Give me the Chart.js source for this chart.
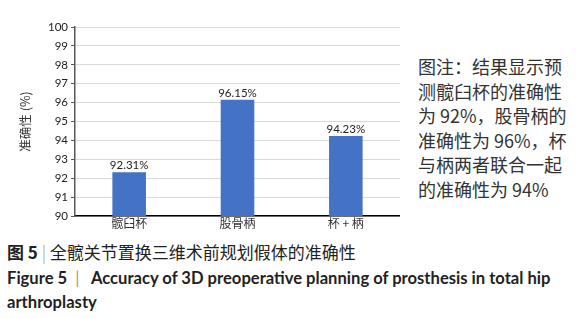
<!DOCTYPE html>
<html><head><meta charset="utf-8">
<script src="https://cdn.jsdelivr.net/npm/chart.js@4"></script>
<style>
html,body{margin:0;padding:0;background:#fff;width:582px;height:318px;overflow:hidden;}
#wrap{position:absolute;left:0;top:0;width:400px;height:232px;}
.note{position:absolute;left:418px;top:54px;font-family:"Noto Sans CJK SC";font-size:18px;line-height:24.6px;color:#333;white-space:nowrap;}
.cap{position:absolute;left:7px;color:#231f20;white-space:nowrap;}
#c1{top:239px;font-family:"Noto Sans CJK SC";font-size:17px;}
#c2{top:268px;font-family:Lato;font-weight:bold;font-size:16.6px;}
#c3{top:292px;font-family:Lato;font-weight:bold;font-size:16.6px;}
</style></head><body>
<div id="wrap"><canvas id="ch" width="400" height="232"></canvas></div>
<div class="note">图注：结果显示预<br>测髋臼杯的准确性<br>为 92%，股骨柄的<br>准确性为 96%，杯<br>与柄两者联合一起<br>的准确性为 94%</div>
<div class="cap" id="c1"><b>图 5</b>&nbsp;<span style="color:#999;font-weight:300">|</span>&nbsp;全髋关节置换三维术前规划假体的准确性</div>
<div class="cap" id="c2">Figure 5&nbsp;&nbsp;<span style="color:#999;font-weight:normal">|</span>&nbsp;&nbsp; Accuracy of 3D preoperative planning of prosthesis in total hip</div>
<div class="cap" id="c3">arthroplasty</div>
<script>
const categories = ["髋臼杯", "股骨柄", "杯 + 柄"];
const accuracy = [92.31, 96.15, 94.23];
const valueLabels = ["92.31%", "96.15%", "94.23%"];
const yMin = 90, yMax = 100, yStep = 1;
const yTitle = "准确性 (%)";

const labelPlugin = {
  id: 'valueLabels',
  afterDatasetsDraw(chart) {
    const ctx = chart.ctx;
    const meta = chart.getDatasetMeta(0);
    ctx.save();
    ctx.font = '11.5px Lato, "Noto Sans"';
    ctx.fillStyle = '#222';
    ctx.textAlign = 'center';
    ctx.textBaseline = 'bottom';
    meta.data.forEach((bar, i) => {
      ctx.fillText(valueLabels[i], bar.x, bar.y - 1);
    });
    ctx.restore();
  }
};

new Chart(document.getElementById('ch'), {
  type: 'bar',
  data: {
    labels: categories,
    datasets: [{
      data: accuracy,
      backgroundColor: '#4472c4',
      borderColor: '#4472c4',
      borderWidth: 0,
      categoryPercentage: 1,
      barPercentage: 0.31
    }]
  },
  options: {
    responsive: false,
    animation: false,
    devicePixelRatio: 1,
    layout: {padding: {top: 27, right: 0, bottom: 0, left: 18}},
    plugins: {legend: {display: false}, tooltip: {enabled: false}},
    scales: {
      x: {
        grid: {display: false, drawTicks: false},
        border: {display: true, color: '#000', width: 1.5},
        ticks: {font: {family: '"Noto Sans CJK SC"', size: 12}, color: '#333', padding: 0},
        afterFit(s) { s.height = 16; }
      },
      y: {
        min: yMin, max: yMax,
        ticks: {stepSize: yStep, font: {family: 'Lato', size: 11.5}, color: '#222', padding: 3},
        grid: {color: '#d9d9d9', lineWidth: 1, tickLength: 4, tickColor: '#595959'},
        border: {display: true, color: '#595959', width: 1.5},
        title: {display: true, text: yTitle, font: {family: '"Noto Sans CJK SC"', size: 12.5}, color: '#333', padding: {top: 0, bottom: 0}},
        afterFit(s) { s.width = 57; }
      }
    }
  },
  plugins: [labelPlugin]
});
</script>
</body></html>
